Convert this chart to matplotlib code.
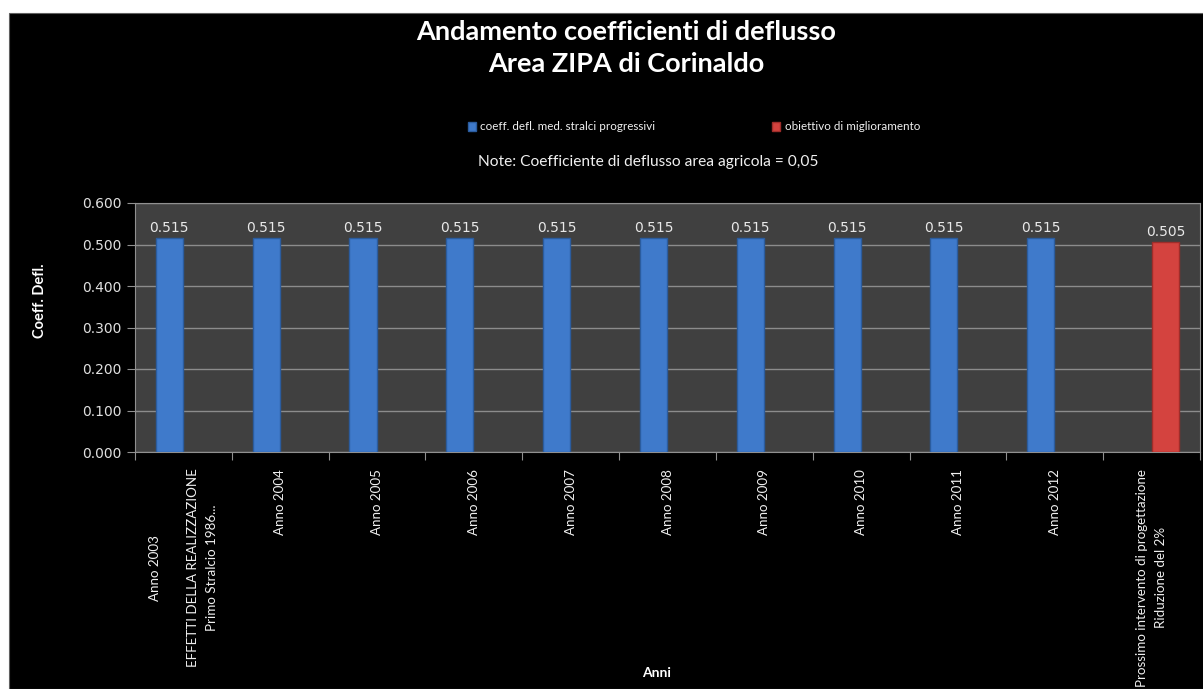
import matplotlib
matplotlib.use("Agg")
import matplotlib.pyplot as plt
import numpy as np
from matplotlib.patches import Rectangle, Patch

plt.rcParams['font.family'] = ['Lato', 'DejaVu Sans']

categorie = [
    "Anno 2003\n\nEFFETTI DELLA REALIZZAZIONE\nPrimo Stralcio 1986...",
    "Anno 2004", "Anno 2005", "Anno 2006", "Anno 2007", "Anno 2008",
    "Anno 2009", "Anno 2010", "Anno 2011", "Anno 2012",
    "Prossimo intervento di progettazione\nRiduzione del 2%",
]
# serie 1: coeff. defl. med. stralci progressivi
stralci = [0.515, 0.515, 0.515, 0.515, 0.515, 0.515, 0.515, 0.515, 0.515, 0.515, np.nan]
# serie 2: obiettivo di miglioramento
obiettivo = [np.nan, np.nan, np.nan, np.nan, np.nan, np.nan, np.nan, np.nan, np.nan, np.nan, 0.505]

fig = plt.figure(figsize=(12.03, 6.89), dpi=100, facecolor='white')
# sfondo nero del grafico
fig.patches.append(Rectangle((9 / 1203, 0), 1, 1 - 13 / 689, transform=fig.transFigure,
                             facecolor='black', edgecolor='#606060', lw=0.8, zorder=-10))

ax = fig.add_axes([135 / 1203, 1 - 452 / 689, (1200 - 135) / 1203, (452 - 203) / 689])
ax.set_facecolor('#404040')

x = np.arange(len(categorie))
w = 0.28
b1 = ax.bar(x - 0.145, stralci, w, color='#3f7acb', edgecolor='#2b5c9e', lw=1, zorder=3)
b2 = ax.bar(x + 0.145, obiettivo, w, color='#d4433f', edgecolor='#9e2d2a', lw=1, zorder=3)

for rect, v in zip(b1, stralci):
    if not np.isnan(v):
        ax.text(rect.get_x() + rect.get_width() / 2, v + 0.008, f"{v:.3f}",
                ha='center', va='bottom', color='#e8e8e8', fontsize=10, family='DejaVu Sans')
for rect, v in zip(b2, obiettivo):
    if not np.isnan(v):
        ax.text(rect.get_x() + rect.get_width() / 2, v + 0.008, f"{v:.3f}",
                ha='center', va='bottom', color='#e8e8e8', fontsize=10, family='DejaVu Sans')

ax.set_xlim(-0.5, len(categorie) - 0.5)
ax.set_ylim(0, 0.6)
ax.set_yticks(np.arange(0, 0.61, 0.1))
ax.set_yticklabels([f"{t:.3f}" for t in np.arange(0, 0.61, 0.1)], color='#e0e0e0',
                   fontsize=10, family='DejaVu Sans')
ax.yaxis.grid(True, color='#8c8c8c', lw=1, zorder=1)

ax.set_xticks(np.arange(-0.5, len(categorie), 1.0))
ax.set_xticklabels([])
ax.set_xticks(x, minor=True)
ax.set_xticklabels(categorie, minor=True, rotation=90, ha='center', va='top',
                   multialignment='center', color='#f0f0f0', fontsize=9.6,
                   linespacing=1.7)
ax.tick_params(axis='x', which='minor', length=0, pad=12)
ax.tick_params(axis='x', which='major', length=6, color='#909090')
ax.tick_params(axis='y', length=6, color='#909090')
for s in ax.spines.values():
    s.set_color('#909090')

fig.text(657 / 1203, 1 - 673 / 689, "Anni", ha='center', va='center',
         color='white', fontsize=10, fontweight='bold')
fig.text(40 / 1203, 1 - 301 / 689, "Coeff. Defl.", ha='center', va='center',
         rotation=90, color='white', fontsize=10.5, fontweight='bold')

fig.text(626 / 1203, 1 - 48 / 689, "Andamento coefficienti di deflusso\nArea ZIPA di Corinaldo",
         ha='center', va='center', color='white', fontsize=19.5, fontweight='bold',
         linespacing=1.45)

handles = [Patch(facecolor='#3f7acb', edgecolor='#2b5c9e'),
           Patch(facecolor='#d4433f', edgecolor='#9e2d2a')]
leg = fig.legend(handles, ["coeff. defl. med. stralci progressivi", "obiettivo di miglioramento"],
                 loc='center left', bbox_to_anchor=(463 / 1203, 1 - 127 / 689), ncol=2,
                 frameon=False, prop={'size': 8.4}, labelcolor='#f0f0f0', handlelength=0.7,
                 handleheight=0.7, handletextpad=0.4, columnspacing=10.0, borderaxespad=0)
fig.text(478 / 1203, 1 - 162 / 689, "Note: Coefficiente di deflusso area agricola = 0,05",
         ha='left', va='center', color='#f0f0f0', fontsize=11.2)

fig.savefig("out.png", dpi=100, facecolor=fig.get_facecolor())
